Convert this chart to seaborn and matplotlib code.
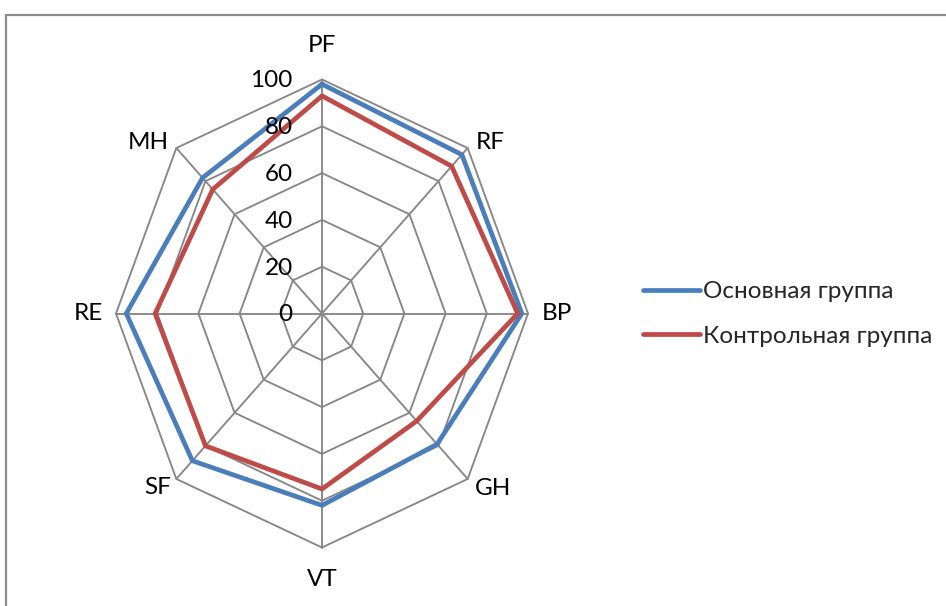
import numpy as np
import pandas as pd
import matplotlib
matplotlib.use("Agg")
import matplotlib.pyplot as plt
import seaborn as sns
from matplotlib.lines import Line2D
from matplotlib.patches import Rectangle

sns.set_theme(style="white")
plt.rcParams["font.family"] = ["Lato", "Noto Sans", "DejaVu Sans"]

categories = ["PF", "RF", "BP", "GH", "VT", "SF", "RE", "MH"]
main_group = [98, 96, 97, 79, 82, 89, 95, 82]
control_group = [93, 89, 95, 65, 75, 80, 81, 75]
series_names = ["Основная группа", "Контрольная группа"]
ring_values = [0, 20, 40, 60, 80, 100]

blue = "#4a7ebb"
red = "#be4b48"
grid_color = "#878787"
fs = 17.5

angles = np.arange(len(categories)) * 2 * np.pi / len(categories)

rows = []
for name, vals in zip(series_names, [main_group, control_group]):
    closed = list(vals) + [vals[0]]
    for k, v in enumerate(closed):
        rows.append({"theta": k * 2 * np.pi / len(categories), "value": v,
                     "group": name})
df = pd.DataFrame(rows)

W, H = 946, 606
fig = plt.figure(figsize=(W / 100, H / 100), dpi=100)
cx, cy, rx, ry = 322, 313.5, 206, 234
ax = fig.add_axes([(cx - rx) / W, (H - cy - ry) / H, 2 * rx / W, 2 * ry / H],
                  projection="polar")
ax.set_aspect("auto")
ax.set_theta_zero_location("N")
ax.set_theta_direction(-1)
ax.set_ylim(0, 100)
ax.set_xticks([])
ax.set_yticks([])
ax.grid(False)
ax.spines["polar"].set_visible(False)
ax.patch.set_alpha(0)

# octagon grid
ring_theta = np.append(angles, angles[0])
for v in ring_values[1:]:
    ax.plot(ring_theta, [v] * len(ring_theta), color=grid_color, lw=1.35,
            zorder=1, clip_on=False)
for a in angles:
    ax.plot([a, a], [0, ring_values[-1]], color=grid_color, lw=1.35,
            zorder=1, clip_on=False)

sns.lineplot(data=df, x="theta", y="value", hue="group", sort=False,
             estimator=None, units="group", palette=[blue, red], lw=3.4,
             ax=ax, legend=False, zorder=3)
for ln in ax.lines[-2:]:
    ln.set_clip_on(False)
    ln.set_solid_joinstyle("miter")
ax.set_xlabel("")
ax.set_ylabel("")

# radial tick labels along the PF spoke
for v in ring_values:
    ax.annotate(str(v), xy=(0, v), xytext=(-21, -1), textcoords="offset points",
                ha="right", va="center", fontsize=fs, color="black")

# category labels (offsets in px)
label_offsets = [(0, 34, "center"), (8, 6, "left"), (14, 0, "left"),
                 (7, -10, "left"), (0, -32, "center"), (-5, -9, "right"),
                 (-13, 0, "right"), (-7, 6, "right")]
for a, lab, (dx, dy, ha) in zip(angles, categories, label_offsets):
    ax.annotate(lab, xy=(a, 100), xytext=(dx * 0.72, dy * 0.72),
                textcoords="offset points", ha=ha, va="center",
                fontsize=fs, color="black", annotation_clip=False)

handles = [Line2D([], [], color=c, lw=3.4, solid_capstyle="round")
           for c in [blue, red]]
fig.legend(handles, series_names, loc="center left",
           bbox_to_anchor=(643 / W, 1 - 314 / H), frameon=False, fontsize=fs,
           handlelength=2.35, handletextpad=0.12, labelspacing=0.95,
           borderpad=0, borderaxespad=0)

fig.add_artist(Rectangle((6 / W, -0.05), 1.0, 1 - 14.5 / H + 0.05,
                         transform=fig.transFigure, fill=False,
                         edgecolor="#8c8c8c", lw=1.6))

fig.savefig("out.png", dpi=100)
